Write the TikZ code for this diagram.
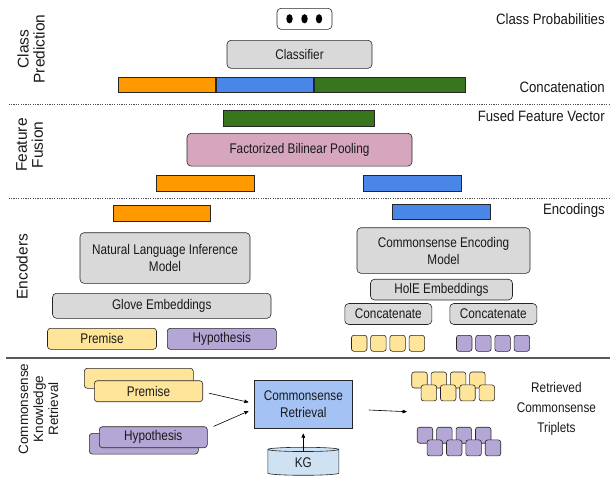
\documentclass[tikz,border=0pt]{standalone}
\usepackage{fontspec}
\setmainfont{Liberation Sans}
\newfontfamily\narrowsans[FakeStretch=0.84]{Liberation Sans}
\newfontfamily\labelsans[FakeStretch=0.88]{Liberation Sans}
\usepackage{tikz}
\usetikzlibrary{
    arrows,
    shapes.geometric
}
\definecolor{cOrange}{HTML}{FF9900}
\definecolor{cBlue}{HTML}{4A86E8}
\definecolor{cGreen}{HTML}{38761D}
\definecolor{cGray}{HTML}{D9D9D9}
\definecolor{cPink}{HTML}{D5A6BD}
\definecolor{cYellow}{HTML}{FFE599}
\definecolor{cPurple}{HTML}{B4A7D6}
\definecolor{cRetr}{HTML}{A4C2F4}
\definecolor{cKG}{HTML}{CFE2F3}
\newcommand{\boxfont}{\narrowsans\fontsize{14}{17}\selectfont}
\newcommand{\tripfont}{\narrowsans\fontsize{14}{20}\selectfont}
\newcommand{\rightfont}{\labelsans\fontsize{15}{18}\selectfont}
\newcommand{\sectfont}{\fontsize{15.5}{16}\selectfont}
\newcommand{\ckrfont}{\fontsize{13.5}{15}\selectfont}

\begin{document}
\begin{tikzpicture}[x=1pt,y=-1pt,>=stealth',semithick]
    \tikzstyle{block}=[draw=black!85, rounded corners=4pt, fill=cGray, font=\boxfont, text=black!90, align=center, inner sep=0pt]
    \tikzstyle{bar}=[draw=black!85, inner sep=0pt, minimum height=15.5pt]
    \tikzstyle{tile}=[draw=black!85, rounded corners=2.5pt, inner sep=0pt, minimum width=15.5pt, minimum height=16pt]
    \tikzstyle{side}=[rotate=90, font=\sectfont, align=center, text=black!90]
    \tikzstyle{tag}=[anchor=east, font=\rightfont, inner sep=0pt, text=black!90]
    \tikzstyle{sep}=[black!70, line width=0.8pt, dash pattern=on 1.2pt off 1.2pt]
    \tikzstyle{store}=[cylinder, shape border rotate=90, aspect=0.25, draw=black!85, fill=cKG, minimum width=71pt, minimum height=28pt, inner sep=0pt, font=\boxfont, text=black!90]
    \useasboundingbox (0,0) rectangle (610,479);

    \node [block, fill=white, minimum width=55pt, minimum height=21pt] (probs) at (304.5,18.8) {};
    \foreach \x in {-15,0,14.5}
        \fill [black] ([xshift=\x pt]probs.center) ellipse [x radius=3.2pt, y radius=4.6pt];
    \node [tag] (probsLbl) at (605,19) {Class Probabilities};
    \node [block, minimum width=145pt, minimum height=28pt] (clf) at (299.5,54.3) {Classifier};
    \node [bar, fill=cOrange, minimum width=97.5pt, anchor=west] (catA) at (117.5,85) {};
    \node [bar, fill=cBlue, minimum width=97.5pt, anchor=west] (catB) at (catA.east) {};
    \node [bar, fill=cGreen, minimum width=151.5pt, anchor=west] (catC) at (catB.east) {};
    \node [tag] (catLbl) at (605,86.7) {Concatenation};
    \draw [sep] (8.5,104.3) -- (610,104.3);

    \node [bar, fill=cGreen, minimum width=151pt, minimum height=16pt] (fused) at (298.5,118) {};
    \node [tag] (fusedLbl) at (605,115.7) {Fused Feature Vector};
    \node [block, fill=cPink, minimum width=225pt, minimum height=32.7pt] (fbp) at (299.5,149.7) {Factorized Bilinear Pooling};
    \node [bar, fill=cOrange, minimum width=98pt, minimum height=16pt] (fuseA) at (205,183.7) {};
    \node [bar, fill=cBlue, minimum width=98.5pt, minimum height=16pt] (fuseB) at (412.25,183.7) {};
    \draw [sep] (8.5,198.3) -- (610,198.3);

    \node [bar, fill=cOrange, minimum width=97.5pt] (encA) at (161.75,213.3) {};
    \node [bar, fill=cBlue, minimum width=98pt, minimum height=15pt] (encB) at (441,211.8) {};
    \node [tag] (encLbl) at (605,211) {Encodings};
    \node [block, minimum width=170pt, minimum height=50.6pt] (nli) at (165,258) {Natural Language Inference\\Model};
    \node [block, minimum width=218.5pt, minimum height=25pt] (glove) at (161.75,305.8) {Glove Embeddings};
    \node [block, fill=cYellow, rounded corners=3pt, minimum width=109pt, minimum height=21pt] (prem) at (102,338.8) {Premise};
    \node [block, fill=cPurple, rounded corners=3pt, minimum width=109pt, minimum height=21pt] (hyp) at (221.8,338.8) {Hypothesis};
    \node [block, minimum width=173pt, minimum height=45.6pt] (cse) at (443.5,250.5) {Commonsense Encoding\\Model};
    \node [block, minimum width=142pt, minimum height=20.7pt] (hole) at (441.5,289.6) {HolE Embeddings};
    \node [block, minimum width=87pt, minimum height=21pt] (concA) at (388.3,314) {Concatenate};
    \node [block, minimum width=87pt, minimum height=21pt] (concB) at (493.3,314) {Concatenate};
    \foreach \i in {0,...,3} {
        \node [tile, fill=cYellow] (pw\i) at ({359.2+19.2*\i},343.3) {};
        \node [tile, fill=cPurple] (hw\i) at ({464.2+19.2*\i},343.3) {};
    }
    \draw [black!65, line width=2pt] (6,358.3) -- (610,358.3);

    \node [side] (secA) at (31,49) {Class\\Prediction};
    \node [side] (secB) at (29.5,145) {Feature\\Fusion};
    \node [side] (secC) at (22,266.7) {Encoders};
    \node [side, font=\ckrfont] (secD) at (38.5,409) {Commonsense\\Knowledge\\Retrieval};

    \node [block, fill=cYellow, rounded corners=3pt, minimum width=109pt, minimum height=20pt] (premB) at (138.8,378.3) {};
    \node [block, fill=cYellow, rounded corners=3pt, minimum width=108.4pt, minimum height=21pt] (premF) at (148.5,391.2) {Premise};
    \node [block, fill=cPurple, rounded corners=3pt, minimum width=109pt, minimum height=20.7pt] (hypB) at (143.8,443.7) {};
    \node [block, fill=cPurple, rounded corners=3pt, minimum width=108pt, minimum height=21pt] (hypF) at (153.3,437.2) {Hypothesis};
    \node [block, fill=cRetr, rounded corners=0pt, minimum width=97.3pt, minimum height=48.3pt] (retr) at (303.3,404.2) {Commonsense\\Retrieval};
    \node [store] (kg) at (303.3,462.5) {KG};
    \foreach \i in {0,...,3}
        \node [tile, fill=cYellow] (ty\i) at ({419.5+19.3*\i},380) {};
    \foreach \i in {0,...,3}
        \node [tile, fill=cYellow] (tyb\i) at ({428.9+19.3*\i},392.9) {};
    \foreach \i in {0,...,3}
        \node [tile, fill=cPurple] (tp\i) at ({425+19.4*\i},435.2) {};
    \foreach \i in {0,...,3}
        \node [tile, fill=cPurple] (tpb\i) at ({434.8+19.4*\i},447.9) {};
    \node [font=\tripfont, align=center, text=black!90] (tripLbl) at (556.4,409.3) {Retrieved\\Commonsense\\Triplets};
    \coordinate (tripIn) at (406.7,411.7);

    \draw [->] ([xshift=6pt,yshift=-2pt]premF.east) -- ([xshift=-6pt,yshift=2pt]retr.west);
    \draw [->] ([xshift=6pt]hypF.north east) -- ([xshift=-6pt,yshift=-7pt]retr.west);
    \draw [->] ([yshift=11pt]kg.center) -- ([yshift=-5pt]retr.south);
    \draw [->] ([xshift=16.7pt,yshift=-5.8pt]retr.east) -- (tripIn);
\end{tikzpicture}
\end{document}
